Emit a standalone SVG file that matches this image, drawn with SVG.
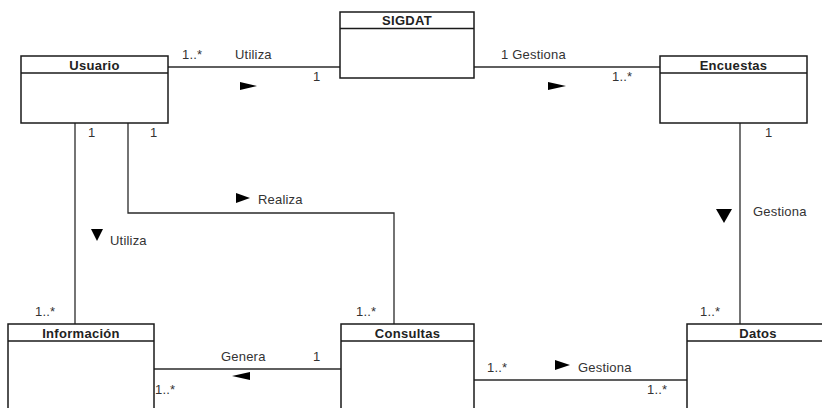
<svg xmlns="http://www.w3.org/2000/svg" width="822" height="408" viewBox="0 0 822 408">
  <style>
    .box { fill: #ffffff; stroke: #1a1a1a; stroke-width: 1.5; }
    .sep { stroke: #1a1a1a; stroke-width: 1.5; }
    .title { font-family: "Liberation Sans", Arial, sans-serif; font-size: 13px; font-weight: bold; fill: #222; text-anchor: middle; letter-spacing: 0.3px; }
    .lbl { font-family: "Liberation Sans", Arial, sans-serif; font-size: 13px; fill: #333; letter-spacing: 0.2px; }
    .wire { fill: none; stroke: #2a2a2a; stroke-width: 1.3; }
    .tri { fill: #000; }
  </style>
  <rect width="822" height="408" fill="#ffffff"/>

  <!-- associations -->
  <g id="connectors">
    <path class="wire" d="M168 67 H340"/>
    <path class="wire" d="M474 67 H660"/>
    <path class="wire" d="M740 123 V324"/>
    <path class="wire" d="M75 123 V324"/>
    <path class="wire" d="M128 123 V213 H394 V324"/>
    <path class="wire" d="M154 369 H341"/>
    <path class="wire" d="M474 380 H687"/>

    <!-- Usuario - SIGDAT -->
    <text class="lbl" x="182" y="59">1..*</text>
    <text class="lbl" x="235" y="59">Utiliza</text>
    <text class="lbl" x="313" y="81">1</text>
    <polygon class="tri" points="240,82 257,86 240,90"/>

    <!-- SIGDAT - Encuestas -->
    <text class="lbl" x="501" y="59">1 Gestiona</text>
    <text class="lbl" x="612" y="81">1..*</text>
    <polygon class="tri" points="548,82 566,86 548,90"/>

    <!-- Encuestas - Datos -->
    <text class="lbl" x="765" y="137">1</text>
    <text class="lbl" x="753" y="216">Gestiona</text>
    <polygon class="tri" points="716,209 732,209 724,223"/>
    <text class="lbl" x="700" y="316">1..*</text>

    <!-- Usuario - Información -->
    <text class="lbl" x="88" y="137">1</text>
    <polygon class="tri" points="91,229 103,229 97,241"/>
    <text class="lbl" x="110" y="245">Utiliza</text>
    <text class="lbl" x="35" y="316">1..*</text>

    <!-- Usuario - Consultas -->
    <text class="lbl" x="150" y="137">1</text>
    <polygon class="tri" points="236,193 250,198 236,203"/>
    <text class="lbl" x="258" y="204">Realiza</text>
    <text class="lbl" x="356" y="316">1..*</text>

    <!-- Consultas - Información -->
    <text class="lbl" x="221" y="361">Genera</text>
    <text class="lbl" x="313" y="361">1</text>
    <polygon class="tri" points="250,372 250,380 232,376"/>
    <text class="lbl" x="155" y="394">1..*</text>

    <!-- Consultas - Datos -->
    <text class="lbl" x="487" y="372">1..*</text>
    <polygon class="tri" points="555,360 570,365 555,370"/>
    <text class="lbl" x="578" y="372">Gestiona</text>
    <text class="lbl" x="647" y="394">1..*</text>
  </g>

  <!-- classes -->
  <g id="usuario">
    <rect class="box" x="21" y="56" width="147" height="67"/>
    <line class="sep" x1="21" y1="73" x2="168" y2="73"/>
    <text class="title" x="94.5" y="69.5">Usuario</text>
  </g>
  <g id="sigdat">
    <rect class="box" x="340" y="12" width="134" height="66"/>
    <line class="sep" x1="340" y1="28.5" x2="474" y2="28.5"/>
    <text class="title" x="407" y="25">SIGDAT</text>
  </g>
  <g id="encuestas">
    <rect class="box" x="660" y="56" width="147" height="67"/>
    <line class="sep" x1="660" y1="73" x2="807" y2="73"/>
    <text class="title" x="733.5" y="69.5">Encuestas</text>
  </g>
  <g id="informacion">
    <rect class="box" x="8" y="324" width="146" height="100"/>
    <line class="sep" x1="8" y1="341" x2="154" y2="341"/>
    <text class="title" x="81" y="337.5">Información</text>
  </g>
  <g id="consultas">
    <rect class="box" x="341" y="324" width="133" height="100"/>
    <line class="sep" x1="341" y1="341" x2="474" y2="341"/>
    <text class="title" x="407.5" y="337.5">Consultas</text>
  </g>
  <g id="datos">
    <rect class="box" x="687" y="324" width="143" height="100"/>
    <line class="sep" x1="687" y1="341" x2="830" y2="341"/>
    <text class="title" x="758" y="337.5">Datos</text>
  </g>
</svg>
